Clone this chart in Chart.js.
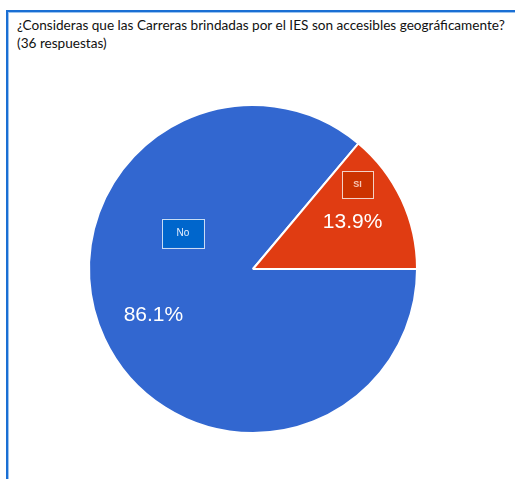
<!DOCTYPE html>
<html>
<head>
<meta charset="utf-8">
<script src="https://cdn.jsdelivr.net/npm/chart.js@4/dist/chart.umd.min.js"></script>
<style>
  body { margin: 0; background: #fff; }
  #marco {
    position: absolute; left: 6px; top: 10px; width: 520px; height: 480px;
    border-left: 2px solid #1a6fd4; border-top: 2px solid #1a6fd4;
    box-shadow: inset 1px 1px 0 #9cc4f0;
  }
  #titulo {
    position: absolute; left: 17px; top: 16px;
    font-family: Lato, "Open Sans", sans-serif; font-size: 13.6px; line-height: 18px; color: #111;
    white-space: nowrap;
  }
  #grafico { position: absolute; left: 0; top: 0; }
</style>
</head>
<body>
<div id="marco"></div>
<div id="titulo">¿Consideras que las Carreras brindadas por el IES son accesibles geográficamente?<br>(36 respuestas)</div>
<canvas id="grafico" width="515" height="479"></canvas>
<script>
var categorie = ["No", "SI"];
var risposte = [31, 5];
var colori = ["#3267d0", "#e03c12"];
var coloriEtichetta = ["#0066cc", "#cc3300"];

var totale = risposte.reduce(function (a, b) { return a + b; }, 0);

// etichette: percentuale dentro la fetta + riquadro col nome
var pluginEtichette = {
  id: "etichette",
  afterDatasetsDraw: function (chart) {
    var ctx = chart.ctx;
    var archi = chart.getDatasetMeta(0).data;
    // posizione del riquadro: scarto d'angolo (gradi) e frazione del raggio
    var riquadri = [
      { dAng: 52, fr: 0.48, w: 42, h: 29, font: "10px Arial", testo: "#e8f0ff", bordo: "#c9dcf5" },
      { dAng: -14, fr: 0.82, w: 31, h: 27, font: "bold 9px Arial", testo: "#f7c9b8", bordo: "#f3d2c6" }
    ];
    ctx.save();
    for (var i = 0; i < archi.length; i++) {
      var p = archi[i].getProps(["x", "y", "startAngle", "endAngle", "outerRadius"], true);
      var mezzo = (p.startAngle + p.endAngle) / 2;

      var perc = (risposte[i] / totale * 100).toFixed(1) + "%";
      ctx.fillStyle = "#ffffff";
      ctx.font = "21px Arial";
      ctx.textAlign = "center";
      ctx.textBaseline = "middle";
      ctx.fillText(perc, p.x + Math.cos(mezzo) * p.outerRadius * 0.67, p.y + Math.sin(mezzo) * p.outerRadius * 0.67);

      var r = riquadri[i];
      var ang = mezzo + r.dAng * Math.PI / 180;
      var cx = p.x + Math.cos(ang) * p.outerRadius * r.fr;
      var cy = p.y + Math.sin(ang) * p.outerRadius * r.fr;
      ctx.fillStyle = coloriEtichetta[i];
      ctx.fillRect(cx - r.w / 2, cy - r.h / 2, r.w, r.h);
      ctx.strokeStyle = r.bordo;
      ctx.lineWidth = 1;
      ctx.strokeRect(Math.round(cx - r.w / 2) + 0.5, Math.round(cy - r.h / 2) + 0.5, r.w, r.h);
      ctx.fillStyle = r.testo;
      ctx.font = r.font;
      ctx.fillText(categorie[i], cx, cy);
    }
    ctx.restore();
  }
};

var ctx = document.getElementById("grafico");
var chart = new Chart(ctx, {
  type: "pie",
  data: {
    labels: categorie,
    datasets: [{
      data: risposte,
      backgroundColor: colori,
      borderColor: "#ffffff",
      borderWidth: 2
    }]
  },
  options: {
    responsive: false,
    animation: false,
    rotation: 90,
    layout: { padding: { left: 88, right: 97, top: 104, bottom: 45 } },
    plugins: {
      legend: { display: false },
      tooltip: { enabled: false }
    }
  },
  plugins: [pluginEtichette]
});
</script>
</body>
</html>
